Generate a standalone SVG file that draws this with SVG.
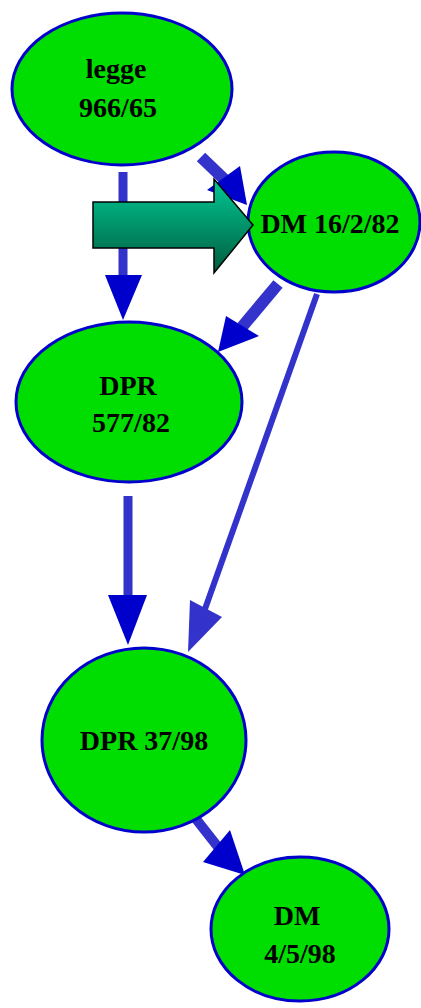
<svg xmlns="http://www.w3.org/2000/svg" width="421" height="1008" viewBox="0 0 421 1008">
<defs>
<style>
.node{fill:#00dd00;stroke:#0000cc;stroke-width:3}
.lbl{font-family:"Liberation Serif","Times New Roman",serif;font-weight:bold;font-size:28px;fill:#000;text-anchor:middle}
.ln{stroke:#3333cc;fill:none}
.hd{fill:#0000cc}
</style>
<linearGradient id="g" x1="0" y1="0" x2="0" y2="1">
<stop offset="0" stop-color="#00c896"/>
<stop offset="1" stop-color="#005c3c"/>
</linearGradient>
</defs>
<rect width="421" height="1008" fill="#fff"/>
<g id="connectors">
<line class="ln" x1="123" y1="172" x2="123" y2="276" stroke-width="9"/>
<polygon class="hd" points="105,275 142,275 123,320"/>
<line class="ln" x1="201" y1="157" x2="225" y2="180" stroke-width="12"/>
<polygon class="hd" points="207,190 240,166 247,205"/>
<line class="ln" x1="278" y1="284" x2="242" y2="327" stroke-width="12"/>
<polygon class="hd" points="226,316 259,336 218,352"/>
<line class="ln" x1="317" y1="294" x2="205" y2="609" stroke-width="6"/>
<polygon points="190,600 222,617 188,652" fill="#3333cc"/>
<line class="ln" x1="128" y1="496" x2="128" y2="596" stroke-width="9"/>
<polygon class="hd" points="108,595 147,595 128,645"/>
<line class="ln" x1="196" y1="819" x2="218" y2="847" stroke-width="10"/>
<polygon class="hd" points="203,862 230,830 245,875"/>
</g>
<g id="n1"><ellipse class="node" cx="122" cy="89" rx="110" ry="76"/>
<text class="lbl" x="116" y="78">legge</text><text class="lbl" x="118" y="117">966/65</text></g>
<g id="n2"><ellipse class="node" cx="334" cy="222" rx="86" ry="70"/>
<text class="lbl" x="330" y="233">DM 16/2/82</text></g>
<g id="n3"><ellipse class="node" cx="129" cy="402" rx="113" ry="80"/>
<text class="lbl" x="128" y="395">DPR</text><text class="lbl" x="131" y="432">577/82</text></g>
<g id="n4"><ellipse class="node" cx="144" cy="740" rx="102" ry="92"/>
<text class="lbl" x="144" y="750">DPR 37/98</text></g>
<g id="n5"><ellipse class="node" cx="300" cy="929" rx="89" ry="72"/>
<text class="lbl" x="297" y="925">DM</text><text class="lbl" x="300" y="963">4/5/98</text></g>
<g id="blockarrow"><polygon points="93,202 214,202 214,179 253,225 214,273 214,248 93,248" fill="url(#g)" stroke="#000" stroke-width="1.5"/></g>
</svg>
